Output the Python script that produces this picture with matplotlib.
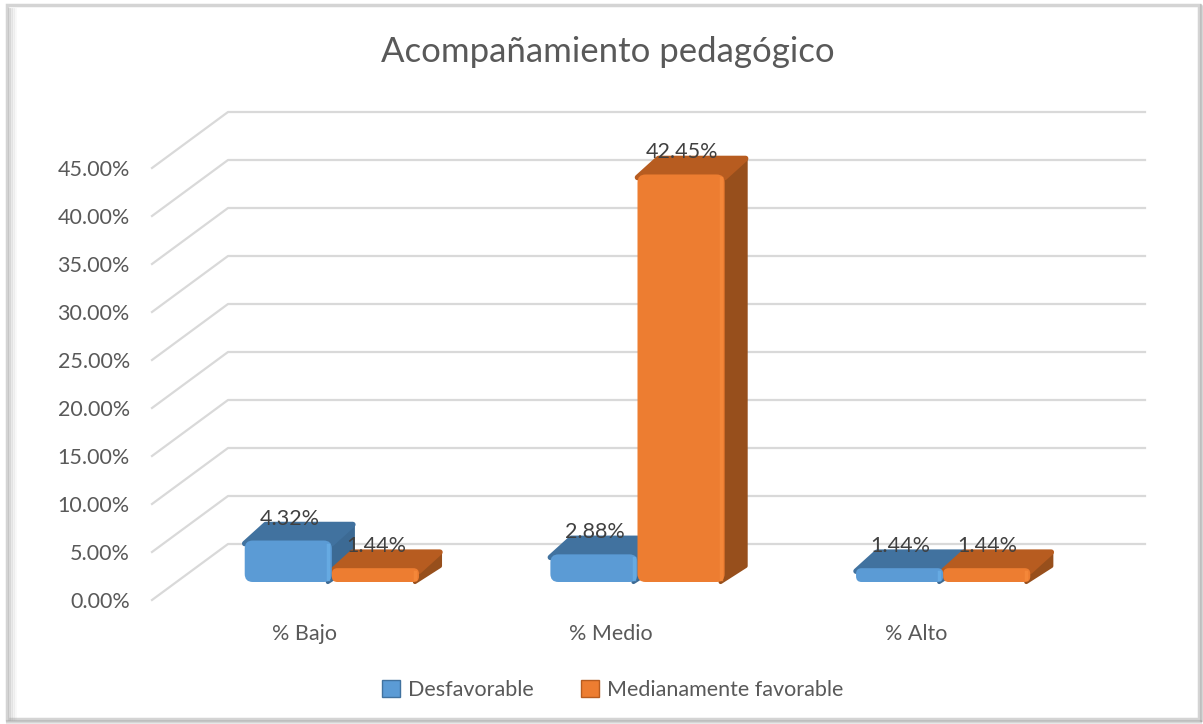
import matplotlib.pyplot as plt
from matplotlib.patches import FancyBboxPatch, Polygon, Patch, Rectangle
from matplotlib.lines import Line2D
from matplotlib.transforms import IdentityTransform

plt.rcParams['font.family'] = ['Lato', 'DejaVu Sans']

# datos
categorias = ["% Bajo", "% Medio", "% Alto"]
series = ["Desfavorable", "Medianamente favorable"]
desfavorable = [4.32, 2.88, 1.44]
med_favorable = [1.44, 42.45, 1.44]
yticks = [0, 5, 10, 15, 20, 25, 30, 35, 40, 45]

W, H = 1203, 724
fig = plt.figure(figsize=(W / 100, H / 100), dpi=100)

# plano frontal del grafico
ax = fig.add_axes([152 / W, (H - 600) / H, (1069 - 152) / W, (600 - 168) / H])
ax.set_xlim(-0.5, 2.5)
ax.set_ylim(0, 45)
for s in ax.spines.values():
    s.set_visible(False)
ax.set_yticks(yticks)
ax.set_yticklabels([f"{v:.2f}%" for v in yticks])
ax.set_xticks(range(len(categorias)))
ax.set_xticklabels(categorias)
ax.tick_params(length=0, labelsize=15.5, labelcolor="#595959")
ax.tick_params(axis="y", pad=16)
ax.tick_params(axis="x", pad=17)
ax.patch.set_visible(False)

ID = IdentityTransform()
GX, GY = 76, 56        # profundidad de la pared trasera (px)
PX, PY = 27, 18        # plano de las barras
DX, DY = 21, 16        # profundidad de las barras
bw = 0.285


def px(x, y):
    return ax.transData.transform((x, y))


# cuadricula en perspectiva
for v in yticks:
    x0, y0 = px(-0.5, v)
    x1, _ = px(2.5, v)
    ax.add_line(Line2D([x0, x0 + GX, x1 + GX], [y0, y0 + GY, y0 + GY],
                       transform=ID, color="#d9d9d9", lw=1.6, clip_on=False, zorder=1))

colores = [
    dict(front="#5b9bd5", top="#41729f", side="#3c6a94", luz="#6aaee6"),
    dict(front="#ed7d31", top="#b75c20", side="#974f1c", luz="#f68a3c"),
]

for i in range(len(categorias)):
    for s, vals in enumerate([desfavorable, med_favorable]):
        c = colores[s]
        xl = i - bw + s * bw
        xa, ya = px(xl, 0)
        xb, yb = px(xl + bw, vals[i])
        xa += PX; xb += PX
        ya += PY; yb += PY
        h = yb - ya
        # cara lateral
        ax.add_patch(Polygon([(xb - 4, ya), (xb - 4, yb), (xb + DX, yb + DY), (xb + DX, ya + DY)],
                             closed=True, transform=ID, fc=c["side"], ec=c["side"],
                             lw=3, joinstyle="round", clip_on=False, zorder=3))
        # cara superior
        ax.add_patch(Polygon([(xa, yb - 3), (xb, yb - 3), (xb + DX, yb + DY), (xa + DX, yb + DY)],
                             closed=True, transform=ID, fc=c["top"], ec=c["top"],
                             lw=4, joinstyle="round", clip_on=False, zorder=3))
        # cara frontal
        r = min(8, h / 2.5)
        ax.add_patch(FancyBboxPatch((xa, ya), xb - xa, h,
                                    boxstyle=f"round,pad=0,rounding_size={r}",
                                    transform=ID, fc=c["front"], ec="none",
                                    clip_on=False, zorder=4))
        # brillo del bisel derecho
        ax.add_line(Line2D([xb - 4, xb - 4], [ya + 3, yb - 4], transform=ID,
                           color=c["luz"], lw=2.5, alpha=0.8, clip_on=False, zorder=5))
        # etiqueta
        ax.text((xa + xb) / 2 + 1, yb + DY - 4, f"{vals[i]:.2f}%", transform=ID,
                ha="center", va="bottom", fontsize=15.5, color="#404040", zorder=6)

fig.text(608 / W, 1 - 52 / H, "Acompañamiento pedagógico", ha="center", va="center",
         fontsize=25, color="#595959")

handles = [Patch(fc=colores[0]["front"], ec=colores[0]["top"]),
           Patch(fc=colores[1]["front"], ec=colores[1]["top"])]
fig.legend(handles, series, loc="center", bbox_to_anchor=(613 / W, 1 - 690 / H), ncol=2,
           frameon=False, fontsize=15.5, labelcolor="#595959", handlelength=0.8,
           handleheight=0.8, handletextpad=0.4, columnspacing=2.2)

# marco con sombra
fig.add_artist(Rectangle((7, 5), 1192, 714, transform=ID, fill=False, ec="#d4d4d4", lw=2.5))
for k, a in enumerate([0.35, 0.25, 0.15, 0.08]):
    fig.add_artist(Line2D([9 + 2 * k, 9 + 2 * k], [5, 715], transform=ID, color="#aaaaaa", alpha=a, lw=2))
    fig.add_artist(Line2D([1201 + k, 1201 + k], [3, 719 - k], transform=ID, color="#999999", alpha=a, lw=1.5))
    fig.add_artist(Line2D([7, 1201], [H - 721 - k, H - 721 - k], transform=ID, color="#999999", alpha=a, lw=1.5))

fig.savefig("out.png", dpi=100)
